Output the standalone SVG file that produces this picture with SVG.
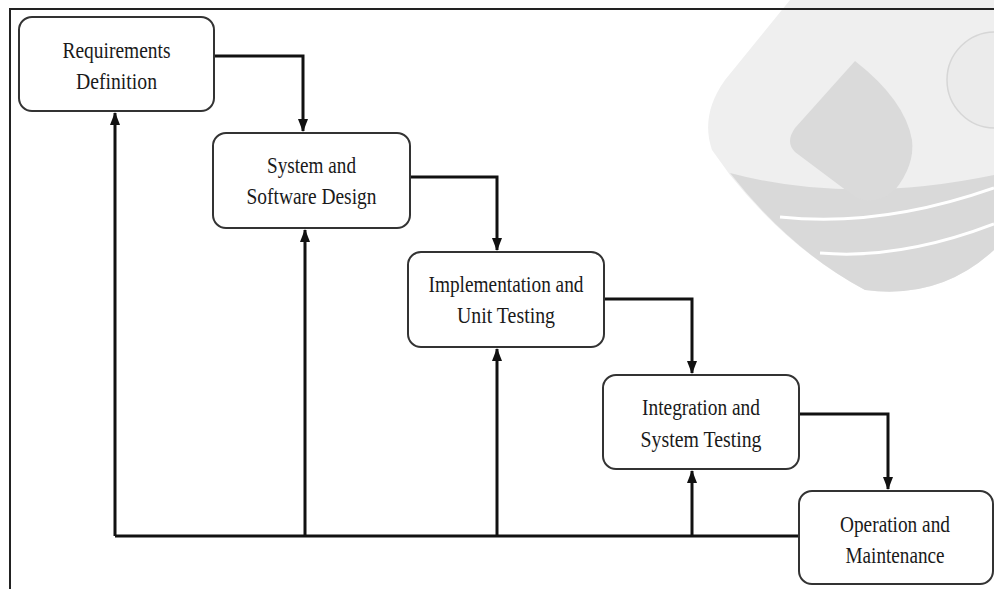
<svg xmlns="http://www.w3.org/2000/svg" width="994" height="589" viewBox="0 0 994 589">
<style>
.box{fill:#fff;stroke:#333;stroke-width:2}
.lbl{font-family:"Liberation Serif","Times New Roman",serif;font-size:24px;fill:#1a1a1a;text-anchor:middle}
.con{fill:none;stroke:#111;stroke-width:3}
</style>
<defs>
<marker id="ah" markerUnits="userSpaceOnUse" markerWidth="13" markerHeight="13" viewBox="0 0 13 13" refX="12" refY="6.5" orient="auto">
<path d="M0,1.5 L13,6.5 L0,11.5 Z" fill="#111"/>
</marker>
</defs>
<rect width="994" height="589" fill="#fff"/>
<g id="watermark">
<path d="M790 0 L725 80 Q700 115 712 150 L730 175 Q790 250 865 290 Q940 300 994 250 L994 0 Z" fill="#efefef"/>
<path d="M730 173 Q850 205 994 175 L994 250 Q940 300 865 290 Q790 250 730 173 Z" fill="#d9d9d9"/>
<path d="M780 217 Q880 228 994 188" fill="none" stroke="#fff" stroke-width="3"/>
<path d="M820 253 Q900 260 994 224" fill="none" stroke="#fff" stroke-width="3"/>
<path d="M855 61 L795 128 Q785 142 795 152 L855 197 Q875 207 895 190 Q915 165 912 140 Q905 100 855 61 Z" fill="#dadada"/>
<circle cx="995" cy="80" r="48" fill="#ebebeb" stroke="#d6d6d6" stroke-width="1.5"/>
</g>
<path d="M10 589 L10 9 L994 9" fill="none" stroke="#222" stroke-width="2"/>
<g id="connectors">
<path class="con" d="M214 56 H303 V131" marker-end="url(#ah)"/>
<path class="con" d="M410 177 H497 V250" marker-end="url(#ah)"/>
<path class="con" d="M604 299 H692 V373" marker-end="url(#ah)"/>
<path class="con" d="M799 414 H888 V489" marker-end="url(#ah)"/>
<path class="con" d="M799 536 H115"/>
<path class="con" d="M115 536 V113" marker-end="url(#ah)"/>
<path class="con" d="M305 536 V230" marker-end="url(#ah)"/>
<path class="con" d="M497 536 V349" marker-end="url(#ah)"/>
<path class="con" d="M692 536 V471" marker-end="url(#ah)"/>
</g>
<g id="n1">
<rect class="box" x="19" y="17" width="195" height="94" rx="13"/>
<text class="lbl" x="116.5" y="58" textLength="108" lengthAdjust="spacingAndGlyphs">Requirements</text>
<text class="lbl" x="116.5" y="89" textLength="81" lengthAdjust="spacingAndGlyphs">Definition</text>
</g>
<g id="n2">
<rect class="box" x="213" y="133" width="197" height="95" rx="13"/>
<text class="lbl" x="311.5" y="173" textLength="89" lengthAdjust="spacingAndGlyphs">System and</text>
<text class="lbl" x="311.5" y="204" textLength="130" lengthAdjust="spacingAndGlyphs">Software Design</text>
</g>
<g id="n3">
<rect class="box" x="408" y="252" width="196" height="95" rx="13"/>
<text class="lbl" x="506" y="292" textLength="155" lengthAdjust="spacingAndGlyphs">Implementation and</text>
<text class="lbl" x="506" y="323" textLength="98" lengthAdjust="spacingAndGlyphs">Unit Testing</text>
</g>
<g id="n4">
<rect class="box" x="603" y="375" width="196" height="94" rx="13"/>
<text class="lbl" x="701" y="415" textLength="118" lengthAdjust="spacingAndGlyphs">Integration and</text>
<text class="lbl" x="701" y="447" textLength="121" lengthAdjust="spacingAndGlyphs">System Testing</text>
</g>
<g id="n5">
<rect class="box" x="799" y="491" width="194" height="93" rx="13"/>
<text class="lbl" x="895" y="532" textLength="110" lengthAdjust="spacingAndGlyphs">Operation and</text>
<text class="lbl" x="895" y="563" textLength="99" lengthAdjust="spacingAndGlyphs">Maintenance</text>
</g>
</svg>
